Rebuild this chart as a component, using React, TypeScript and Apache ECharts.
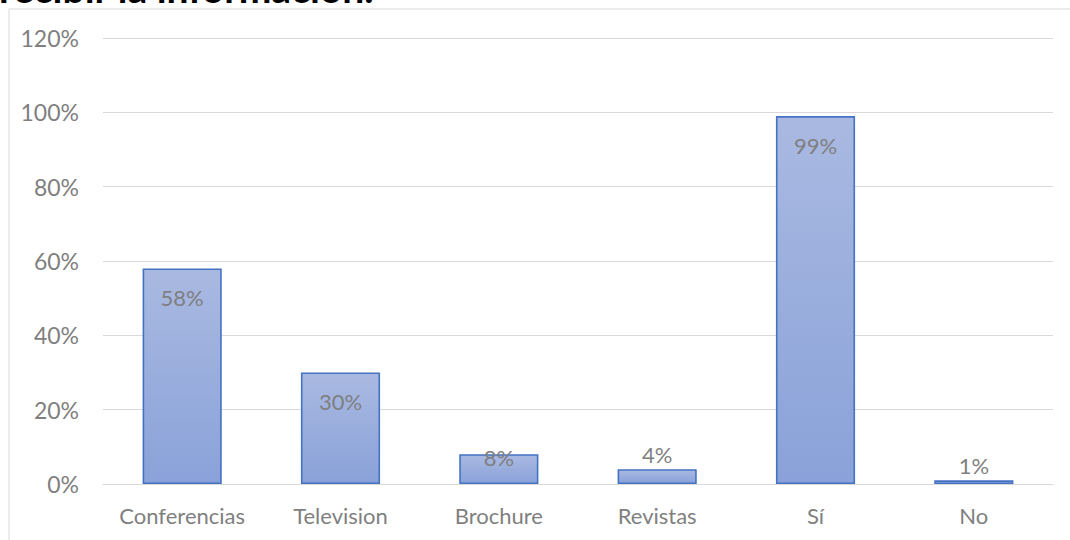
import React, { useEffect, useRef } from "react";
import * as echarts from "echarts";

const categories = ["Conferencias", "Television", "Brochure", "Revistas", "Sí", "No"];
const values = [58, 30, 8, 4, 99, 1];
const labelPositions = ["insideTop", "insideTop", "tight", "top", "insideTop", "top"];
const yTicks = [0, 20, 40, 60, 80, 100, 120];
const titleText = "recibir la información.";

const FONT = "Lato";

export default function App() {
  const ref = useRef<HTMLDivElement>(null);
  useEffect(() => {
    const chart = echarts.init(ref.current!, null, { renderer: "svg" });
    const data = values.map((v, i) => {
      const pos = labelPositions[i];
      let label: any = { position: "insideTop", distance: 18 };
      if (pos === "top") label = { position: "top", distance: 4 };
      if (pos === "tight") label = { position: "top", distance: -14 };
      return { value: v, label };
    });
    chart.setOption({
      animation: false,
      backgroundColor: "#ffffff",
      grid: { left: 103, right: 17, top: 38, bottom: 56, containLabel: false },
      graphic: [
        {
          type: "rect",
          shape: { x: 9, y: 9, width: 1100, height: 600 },
          style: { fill: "none", stroke: "#d9d9d9", lineWidth: 1 },
          z: -1,
        },
        {
          type: "text",
          x: -1,
          y: 7,
          style: {
            text: titleText,
            font: `bold 39px ${FONT}`,
            fill: "#000000",
            verticalAlign: "bottom",
            align: "left",
          },
        },
      ],
      xAxis: {
        type: "category",
        data: categories,
        axisLine: { show: true, lineStyle: { color: "#d9d9d9", width: 1 } },
        axisTick: { show: false },
        axisLabel: { color: "#7f7f7f", fontFamily: FONT, fontSize: 22, margin: 20, interval: 0 },
      },
      yAxis: {
        type: "value",
        min: 0,
        max: 120,
        interval: 20,
        axisLine: { show: false },
        axisTick: { show: false },
        splitLine: { lineStyle: { color: "#d9d9d9", width: 1 } },
        axisLabel: {
          color: "#7f7f7f",
          fontFamily: FONT,
          fontSize: 23,
          margin: 24,
          formatter: (v: number) => (yTicks.includes(v) ? `${v}%` : ""),
        },
      },
      series: [
        {
          type: "bar",
          data,
          barWidth: "50%",
          itemStyle: {
            color: new echarts.graphic.LinearGradient(0, 0, 0, 1, [
              { offset: 0, color: "#a9b9e1" },
              { offset: 1, color: "#8aa2d9" },
            ]),
            borderColor: "#4472c4",
            borderWidth: 1.6,
          },
          label: {
            show: true,
            color: "#7f7f7f",
            fontFamily: FONT,
            fontSize: 22,
            formatter: (p: any) => `${p.value}%`,
          },
        },
      ],
    });
    return () => chart.dispose();
  }, []);
  return (
    <div
      ref={ref}
      style={{ position: "fixed", left: 0, top: 0, width: 1070, height: 540 }}
    />
  );
}
